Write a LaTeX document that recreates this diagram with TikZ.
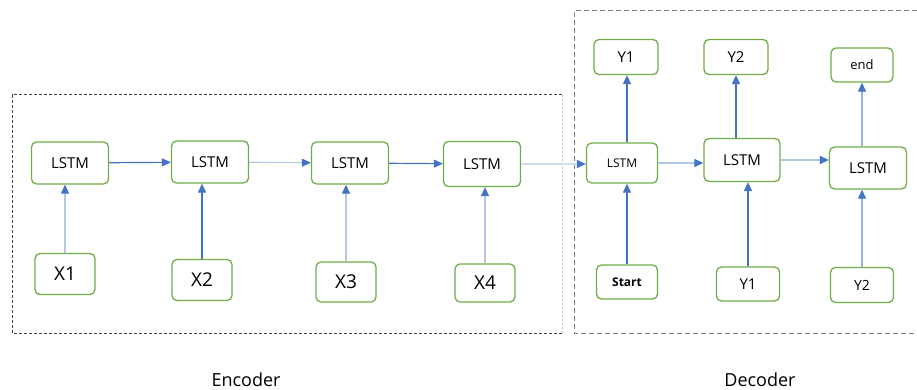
\documentclass[tikz,border=0pt]{standalone}
\usepackage{fontspec}
\setmainfont{Open Sans}
\usetikzlibrary{arrows.meta,positioning}
\definecolor{cellgreen}{HTML}{70AD47}
\definecolor{linkblue}{HTML}{4472C4}
\definecolor{linkfaint}{HTML}{B4C7E7}
\tikzstyle{cell}=[rectangle, rounded corners=5pt, line width=1.3pt, draw=cellgreen, fill=white, minimum width=77pt, minimum height=42pt, inner sep=0pt]
\tikzstyle{token}=[cell, minimum width=60pt, minimum height=38pt]
\tikzstyle{connect}=[-{Triangle[length=9pt,width=8pt,color=linkblue]}, line width=1.2pt, draw=linkblue]
\tikzstyle{connectlight}=[connect, draw=linkfaint]
\tikzstyle{caption}=[font=\fontsize{18}{20}\selectfont]

\begin{document}
\begin{tikzpicture}[x=1pt, y=-1pt]
  \useasboundingbox (0,0) rectangle (917,390);

  % encoder / decoder frames
  \draw[black!75, line width=1pt, dash pattern=on 3pt off 2pt] (562,95) -- (12,95) -- (12,333) -- (562,333);
  \draw[black!25, line width=1pt, dash pattern=on 2pt off 2pt] (562,95) -- (562,333);
  \draw[black!50, line width=1pt, dash pattern=on 5pt off 3pt] (917,11) -- (574,11) -- (574,333) -- (917,333);

  % encoder
  \node[cell, font=\fontsize{15}{17}\selectfont] (enc1) at (70,163) {LSTM};
  \node[cell, font=\fontsize{15}{17}\selectfont] (enc2) at (210,162) {LSTM};
  \node[cell, font=\fontsize{15}{17}\selectfont] (enc3) at (350,163) {LSTM};
  \node[cell, minimum height=45pt, font=\fontsize{15}{17}\selectfont] (enc4) at (482,164) {LSTM};
  \node[token, minimum height=41pt, font=\fontsize{19}{21}\selectfont] (x1) at (65,274) {X1};
  \node[token, minimum height=41pt, font=\fontsize{19}{21}\selectfont] (x2) at (202,280) {X2};
  \node[token, minimum height=40pt, font=\fontsize{19}{21}\selectfont] (x3) at (346,282) {X3};
  \node[token, minimum height=38pt, font=\fontsize{19}{21}\selectfont] (x4) at (485,283) {X4};

  % decoder
  \node[cell, minimum width=71pt, minimum height=40pt, font=\fontsize{12}{14}\selectfont] (dec1) at (622,163) {LSTM};
  \node[cell, minimum width=76pt, minimum height=43pt, font=\fontsize{15}{17}\selectfont] (dec2) at (742,160) {LSTM};
  \node[cell, font=\fontsize{15}{17}\selectfont] (dec3) at (868,168) {LSTM};
  \node[token, minimum width=64pt, minimum height=35pt, font=\fontsize{15}{17}\selectfont] (yout1) at (626,57) {Y1};
  \node[token, minimum width=64pt, minimum height=35pt, font=\fontsize{15}{17}\selectfont] (yout2) at (736,57) {Y2};
  \node[token, minimum width=62pt, minimum height=34pt, font=\fontsize{13}{15}\selectfont] (yend) at (862,65) {end};
  \node[token, minimum width=61pt, minimum height=34pt, font=\fontsize{12}{14}\selectfont\bfseries] (start) at (627,282) {Start};
  \node[token, minimum width=63pt, minimum height=34pt, font=\fontsize{15}{17}\selectfont] (yin1) at (748,284) {Y1};
  \node[token, minimum width=63pt, minimum height=35pt, font=\fontsize{14}{16}\selectfont] (yin2) at (862,285) {Y2};

  \node[caption] (enclabel) at (246,380) {Encoder};
  \node[caption] (declabel) at (760,380) {Decoder};

  \path (enc1) edge [connect] (enc2)
        (enc2) edge [connectlight] (enc3)
        (enc3) edge [connect] (enc4)
        (enc4) edge [connectlight, draw=linkfaint!60] (enc4 -| dec1.west)
        (dec1) edge [connectlight] (dec1 -| dec2.west)
        (dec2) edge [connectlight] (dec2 -| dec3.west);

  \path (x1.north) edge [connectlight] (x1.north |- enc1.south)
        (x2.north) edge [connect] (x2.north |- enc2.south)
        (x3.north) edge [connectlight] (x3.north |- enc3.south)
        (x4.north) edge [connectlight] (x4.north |- enc4.south)
        (start.north) edge [connect] (start.north |- dec1.south)
        (yin1.north) edge [connect] (yin1.north |- dec2.south)
        (yin2.north) edge [connectlight, draw=linkblue!55] (yin2.north |- dec3.south)
        (dec1.north -| start.north) edge [connect] (start.north |- yout1.south)
        (dec2.north -| yout2.south) edge [connect] (yout2.south)
        (dec3.north -| yend.south) edge [connectlight, draw=linkblue!55] (yend.south);
\end{tikzpicture}
\end{document}
